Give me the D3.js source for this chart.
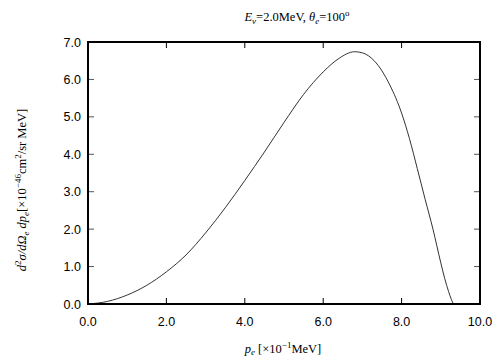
<!DOCTYPE html>
<html><head><meta charset="utf-8">
<script src="https://cdn.jsdelivr.net/npm/d3@7"></script>
<style>body{margin:0;background:#fff}svg{display:block}</style>
</head><body>
<svg id="c" width="504" height="360"></svg>
<script>
const xTicks = [0, 2, 4, 6, 8, 10];
const yTicks = [0, 1, 2, 3, 4, 5, 6, 7];
const pe    = [0, 0.5, 1.0, 1.5, 2.0, 2.5, 3.0, 3.5, 4.0, 4.5, 5.0, 5.5, 6.0, 6.4, 6.8, 7.0, 7.3, 7.7, 8.0, 8.2, 8.4, 8.6, 8.8, 9.0, 9.1, 9.2, 9.27, 9.32];
const sigma = [0, 0.07, 0.24, 0.5, 0.86, 1.31, 1.9, 2.57, 3.3, 4.06, 4.85, 5.6, 6.2, 6.56, 6.74, 6.71, 6.5, 5.85, 5.1, 4.42, 3.62, 2.8, 2.0, 1.1, 0.68, 0.33, 0.12, 0];

const svg = d3.select("#c");
const L = 88, R = 480, T = 42, B = 304;
const x = d3.scaleLinear().domain([0, 10]).range([L, R]);
const y = d3.scaleLinear().domain([0, 7]).range([B, T]);

const g = svg.append("g");
const tk = 6;
xTicks.slice(1, -1).forEach(v => {
  g.append("line").attr("x1", x(v)).attr("x2", x(v)).attr("y1", B).attr("y2", B - tk).attr("stroke", "#000").attr("stroke-width", 1);
  g.append("line").attr("x1", x(v)).attr("x2", x(v)).attr("y1", T).attr("y2", T + tk).attr("stroke", "#000").attr("stroke-width", 1);
});
yTicks.slice(1, -1).forEach(v => {
  g.append("line").attr("x1", L).attr("x2", L + tk).attr("y1", y(v)).attr("y2", y(v)).attr("stroke", "#555").attr("stroke-width", 1);
  g.append("line").attr("x1", R).attr("x2", R - tk).attr("y1", y(v)).attr("y2", y(v)).attr("stroke", "#555").attr("stroke-width", 1);
});

const line = d3.line().x((d, i) => x(pe[i])).y((d, i) => y(sigma[i])).curve(d3.curveMonotoneX);
g.append("path").attr("d", line(pe)).attr("fill", "none").attr("stroke", "#333").attr("stroke-width", 1);

g.append("rect").attr("x", L).attr("y", T).attr("width", R - L).attr("height", B - T)
  .attr("fill", "none").attr("stroke", "#000").attr("stroke-width", 2);

const tf = "'Liberation Sans', Arial, sans-serif";
xTicks.forEach(v => {
  g.append("text").attr("x", x(v)).attr("y", 326).attr("text-anchor", "middle")
    .attr("font-family", tf).attr("font-size", 12.5).text(v.toFixed(1));
});
yTicks.forEach(v => {
  g.append("text").attr("x", 81).attr("y", y(v) + 4.5).attr("text-anchor", "end")
    .attr("font-family", tf).attr("font-size", 12.5).text(v.toFixed(1));
});

const sf = "'Liberation Serif', 'Times New Roman', serif";
const t = svg.append("text").attr("x", 297).attr("y", 21).attr("text-anchor", "middle")
  .attr("font-family", sf).attr("font-size", 12.5);
t.append("tspan").attr("font-style", "italic").text("E");
t.append("tspan").attr("font-style", "italic").attr("font-size", 9).attr("dy", 3).text("ν");
t.append("tspan").attr("dy", -3).text("=2.0MeV,  ");
t.append("tspan").attr("font-style", "italic").text("θ");
t.append("tspan").attr("font-style", "italic").attr("font-size", 9).attr("dy", 3).text("e");
t.append("tspan").attr("dy", -3).text("=100");
t.append("tspan").attr("font-size", 9).attr("dy", -5).text("o");

const xl = svg.append("text").attr("x", 283).attr("y", 353).attr("text-anchor", "middle")
  .attr("font-family", sf).attr("font-size", 12.5);
xl.append("tspan").attr("font-style", "italic").text("p");
xl.append("tspan").attr("font-style", "italic").attr("font-size", 9).attr("dy", 2).text("e");
xl.append("tspan").attr("dy", -2).text(" [×10");
xl.append("tspan").attr("font-size", 9).attr("dy", -5).text("−1");
xl.append("tspan").attr("dy", 5).text("MeV]");

const yl = svg.append("text").attr("transform", "translate(26,190) rotate(-90)").attr("text-anchor", "middle")
  .attr("font-family", sf).attr("font-size", 12.5);
yl.append("tspan").attr("font-style", "italic").text("d");
yl.append("tspan").attr("font-size", 9).attr("dy", -5).text("2");
yl.append("tspan").attr("font-style", "italic").attr("dy", 5).text("σ/dΩ");
yl.append("tspan").attr("font-style", "italic").attr("font-size", 9).attr("dy", 3).text("e");
yl.append("tspan").attr("font-style", "italic").attr("dy", -3).text(" dp");
yl.append("tspan").attr("font-style", "italic").attr("font-size", 9).attr("dy", 3).text("e");
yl.append("tspan").attr("dy", -3).text("[×10");
yl.append("tspan").attr("font-size", 9).attr("dy", -5).text("−46");
yl.append("tspan").attr("dy", 5).text("cm");
yl.append("tspan").attr("font-size", 9).attr("dy", -5).text("2");
yl.append("tspan").attr("dy", 5).text("/sr MeV]");
</script>
</body></html>
